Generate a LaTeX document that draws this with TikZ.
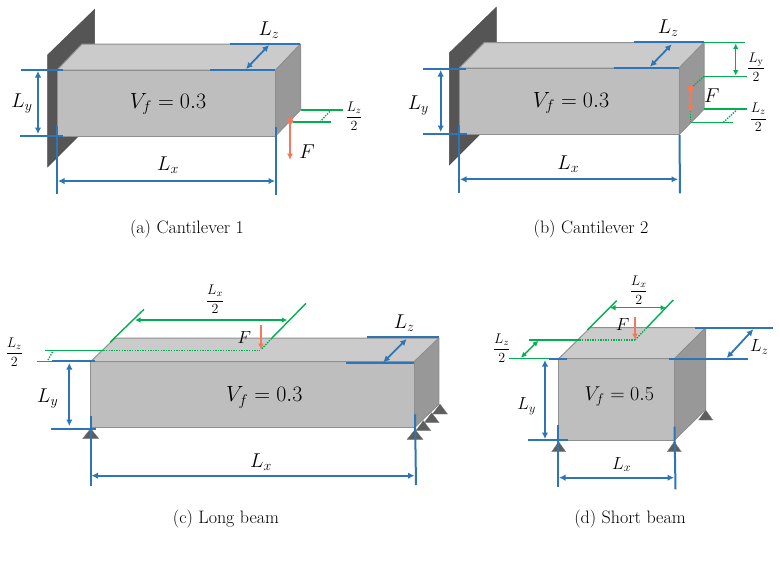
\documentclass[tikz,border=0pt]{standalone}
\usepackage{fix-cm}
\usetikzlibrary{arrows.meta}
\definecolor{dimblue}{HTML}{2E75B6}
\definecolor{dimgreen}{HTML}{00B050}
\definecolor{loadred}{HTML}{F4795B}
\definecolor{facefront}{HTML}{BEBEBE}
\definecolor{facetop}{HTML}{CBCBCB}
\definecolor{faceside}{HTML}{989898}
\definecolor{faceedge}{HTML}{8F8F8F}
\definecolor{wallgray}{HTML}{555555}
\definecolor{pingray}{HTML}{5E5E5E}
\tikzset{
  face/.style={draw=faceedge,line width=1pt,line join=round},
  wallface/.style={fill=wallgray,draw=black!70,line width=0.5pt},
  pin/.style={fill=pingray,draw=pingray!80,line width=0.3pt},
  bline/.style={draw=dimblue,line width=2pt},
  barrow/.style={draw=dimblue,line width=1.8pt,{Latex[length=6.5pt,width=6.5pt]}-{Latex[length=6.5pt,width=6.5pt]}},
  gline/.style={draw=dimgreen,line width=1.4pt},
  gdot/.style={draw=dimgreen,line width=1.4pt,dash pattern=on 1.4pt off 1.2pt},
  garrow/.style={draw=dimgreen,line width=1.4pt,{Latex[length=5.5pt,width=5.5pt]}-{Latex[length=5.5pt,width=5.5pt]}},
  farrow/.style={draw=loadred,line width=1.8pt,-{Latex[length=6.5pt,width=6pt]}},
  biglab/.style={inner sep=0pt,font=\fontsize{20}{22}\selectfont},
  midlab/.style={inner sep=0pt,font=\fontsize{17.5}{19}\selectfont},
  vfbig/.style={inner sep=0pt,font=\fontsize{22}{24}\selectfont},
  vfmid/.style={inner sep=0pt,font=\fontsize{20}{22}\selectfont},
  fraclab/.style={inner sep=0pt,font=\fontsize{14}{16}\selectfont},
  caplab/.style={inner sep=0pt,font=\fontsize{18}{20}\selectfont},
}
% left, top, right, bottom, dx, dy
\newcommand{\prism}[6]{%
  \fill[facetop] (#1,#2) -- ({#1+#5},{#2+#6}) -- ({#3+#5},{#2+#6}) -- (#3,#2) -- cycle;
  \fill[faceside] (#3,#2) -- ({#3+#5},{#2+#6}) -- ({#3+#5},{#4+#6}) -- (#3,#4) -- cycle;
  \fill[facefront] (#1,#2) rectangle (#3,#4);
  \draw[face] (#1,#2) -- ({#1+#5},{#2+#6}) -- ({#3+#5},{#2+#6}) -- (#3,#2) -- cycle;
  \draw[face] ({#3+#5},{#2+#6}) -- ({#3+#5},{#4+#6}) -- (#3,#4);
  \draw[face] (#1,#2) rectangle (#3,#4);
}
\newcommand{\pintri}[3]{\draw[pin] (#1,#2) -- ({#1-#3},{#2+10}) -- ({#1+#3},{#2+10}) -- cycle;}
\newcommand{\frc}[2]{$\displaystyle\frac{#1}{#2}$}
\newcommand{\vfeq}[1]{$V_f\mkern5mu{=}\mkern5mu#1$}
\begin{document}
\begin{tikzpicture}[x=1pt,y=-1pt]
\useasboundingbox (0,0) rectangle (780,563);
\fill[white] (0,0) rectangle (780,563);

% ---------- (a)
\draw[wallface] (47.5,55) -- (94.5,9.5) -- (94.5,120) -- (47.5,167) -- cycle;
\prism{57}{70}{275.5}{136}{25}{-26}
\draw[bline] (21,70) -- (63,70);
\draw[bline] (20,136) -- (63,136);
\draw[barrow] (38,71) -- (38,134);
\draw[bline] (230,44) -- (300,44);
\draw[bline] (210,70) -- (275,70);
\draw[barrow] (246,69) -- (269,45);
\draw[bline] (57,126) -- (57,194);
\draw[bline] (276,127) -- (276,195);
\draw[barrow] (58,181) -- (275,181);
\draw[gline] (300.5,110) -- (343,110);
\draw[gline] (293,122) -- (331,122);
\draw[gdot] (320,122) -- (331,110);
\draw[farrow] (290,121) -- (290,160);
\fill[loadred] (290,121) circle (3.2);
\node[biglab] (aly) at (22,104) {$L_y$};
\node[biglab] (alz) at (269,30) {$L_z$};
\node[biglab] (alx) at (168,165) {$L_x$};
\node[vfbig] (avf) at (168,104) {\vfeq{0.3}};
\node[biglab] (af) at (307,152) {$F$};
\node[fraclab] (afr) at (354,116) {\frc{L_z}{2}};
\node[caplab] (acap) at (187,229) {(a) Cantilever 1};

% ---------- (b)
\draw[wallface] (449.3,53) -- (496.3,7.3) -- (496.3,118) -- (449.3,165) -- cycle;
\prism{459.3}{68}{679}{134.7}{25}{-25.5}
\draw[bline] (423.3,68.7) -- (466,68.7);
\draw[bline] (422.7,134.3) -- (466.7,134.3);
\draw[barrow] (440.7,70) -- (440.7,132);
\draw[bline] (633.7,42.3) -- (704,42.3);
\draw[bline] (614,67.7) -- (679,67.7);
\draw[barrow] (650,66.7) -- (671.7,44.3);
\draw[bline] (459.3,125) -- (459.3,192.7);
\draw[bline] (679.5,135) -- (680,193.3);
\draw[barrow] (460,179.3) -- (678,179.3);
\draw[gline] (704,42.3) -- (745,42.3);
\draw[gline] (704,76.3) -- (746.7,76.3);
\draw[garrow] (735.7,43.5) -- (735.7,75.5);
\draw[gdot] (704,76.3) -- (690.7,88.3);
\draw[gline] (704,109) -- (746.7,109);
\draw[gline] (691,122.3) -- (733.3,122.3);
\draw[gdot] (723.3,122.3) -- (736.7,110);
\draw[gdot] (690.7,111) -- (690.7,122.3);
\draw[farrow] (690.7,88.3) -- (690.7,112);
\fill[loadred] (690.7,88.3) circle (3.2);
\node[biglab] (bly) at (418.3,106) {$L_y$};
\node[biglab] (blz) at (668.3,28) {$L_z$};
\node[biglab] (blx) at (568.3,164) {$L_x$};
\node[vfbig] (bvf) at (571,103) {\vfeq{0.3}};
\node[biglab] (bf) at (711.7,96) {$F$};
\node[fraclab] (bfy) at (756,67) {\frc{L_{\mathrm{y}}}{2}};
\node[fraclab] (bfz) at (758.3,117.5) {\frc{L_z}{2}};
\node[caplab] (bcap) at (591,229) {(b) Cantilever 2};

% ---------- (c)
\pintri{440}{404}{7.5}
\pintri{431.7}{412.7}{7.5}
\pintri{423.3}{420.7}{7.5}
\prism{90.7}{361.5}{414.3}{427.7}{24.5}{-23.5}
\pintri{90.7}{428.5}{8}
\pintri{415}{429.5}{8}
\draw[gline] (45,350.3) -- (103.3,350.3);
\draw[gline] (36.7,361.3) -- (52,361.3);
\draw[gdot] (48,360) -- (53,351);
\draw[gdot] (103.3,350.3) -- (260,350.3);
\draw[gdot] (271.7,338.3) -- (261.7,349);
\draw[gline] (110,342.3) -- (144,309.3);
\draw[gline] (271.7,338.3) -- (306,303.3);
\draw[garrow] (135,320) -- (287.3,320);
\draw[farrow] (261,325.3) -- (261,350);
\draw[bline] (51.7,361.3) -- (95,361.3);
\draw[bline] (50.7,428.7) -- (96,428.7);
\draw[barrow] (69.3,363) -- (69.3,426);
\draw[bline] (366.7,337) -- (439,337);
\draw[bline] (346,363) -- (414.3,363);
\draw[barrow] (383.3,362.3) -- (406.7,339);
\draw[bline] (90.7,415.7) -- (90.7,485.7);
\draw[bline] (415,414.3) -- (416,485);
\draw[barrow] (91.5,475.7) -- (414.5,475.7);
\node[biglab] (cly) at (47.7,399) {$L_y$};
\node[biglab] (clz) at (404.3,323.5) {$L_z$};
\node[biglab] (clx) at (261,462) {$L_x$};
\node[vfbig] (cvf) at (264.3,397.5) {\vfeq{0.3}};
\node[midlab] (cf) at (244.3,337.3) {$F$};
\node[fraclab] (cfx) at (215,299.5) {\frc{L_x}{2}};
\node[fraclab] (cfz) at (14.3,352) {\frc{L_z}{2}};
\node[caplab] (ccap) at (226,519) {(c) Long beam};

% ---------- (d)
\pintri{705.7}{410}{7}
\prism{558.7}{358.7}{674.3}{440.3}{31.4}{-31}
\pintri{558.7}{441.7}{7}
\pintri{674.3}{441.7}{7}
\draw[gline] (509.3,358.7) -- (560,358.7);
\draw[gline] (529.3,340) -- (579.3,340);
\draw[gdot] (579.3,340) -- (635,340);
\draw[gdot] (635,340) -- (646.7,327.7);
\draw[gline] (587.3,330) -- (616.7,300.7);
\draw[gline] (646.7,327.7) -- (673.3,300);
\draw[garrow] (610,307.7) -- (666,307.7);
\draw[garrow] (521,357.7) -- (538.3,340.7);
\draw[farrow] (635,317.3) -- (635,340);
\draw[bline] (549,358.7) -- (567.3,358.7);
\draw[bline] (528.3,440.3) -- (568,440.3);
\draw[barrow] (545,360) -- (545,439);
\draw[bline] (695,328) -- (773.3,328);
\draw[bline] (669.3,358.7) -- (747.7,358.7);
\draw[barrow] (726.7,358) -- (753.3,329.3);
\draw[bline] (558,425) -- (558,486.7);
\draw[bline] (674.5,426.7) -- (675.5,489.3);
\draw[barrow] (559,477.7) -- (674,477.7);
\node[midlab] (dly) at (526.7,406) {$L_y$};
\node[midlab] (dlz) at (759.3,347.3) {$L_z$};
\node[midlab] (dlx) at (621.7,464.5) {$L_x$};
\node[vfmid] (dvf) at (619.3,397) {\vfeq{0.5}};
\node[midlab] (df) at (622.7,325) {$F$};
\node[fraclab] (dfx) at (638.7,290) {\frc{L_x}{2}};
\node[fraclab] (dfz) at (501.7,348) {\frc{L_z}{2}};
\node[caplab] (dcap) at (630,519) {(d) Short beam};
\end{tikzpicture}
\end{document}
